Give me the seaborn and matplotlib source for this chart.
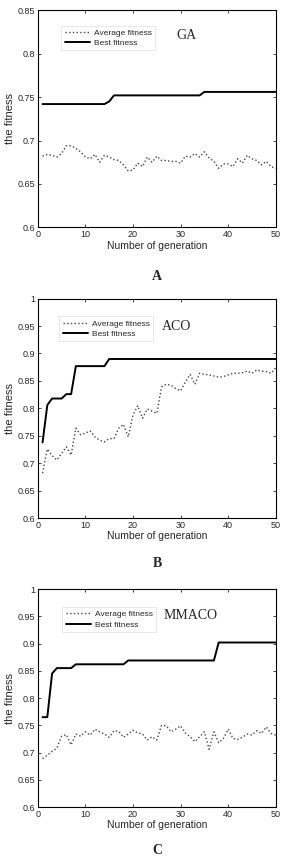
import pandas as pd
import matplotlib.pyplot as plt
import seaborn as sns
import numpy as np

sns.set_style('ticks')
plt.rcParams['font.family'] = ['Liberation Sans', 'DejaVu Sans']

generations = list(range(1, 51))

# GA
ga_avg = [0.682, 0.684, 0.683, 0.681, 0.685, 0.694, 0.694, 0.691, 0.687, 0.681,
          0.679, 0.684, 0.675, 0.683, 0.681, 0.678, 0.677, 0.672, 0.665, 0.666,
          0.674, 0.670, 0.681, 0.675, 0.682, 0.677, 0.677, 0.676, 0.676, 0.674,
          0.682, 0.681, 0.685, 0.681, 0.687, 0.680, 0.676, 0.668, 0.673, 0.673,
          0.670, 0.679, 0.674, 0.683, 0.679, 0.677, 0.672, 0.676, 0.670, 0.668]
ga_best = [0.742] * 14 + [0.745] + [0.752] * 19 + [0.756] * 16

# ACO
aco_avg = [0.682, 0.726, 0.714, 0.706, 0.718, 0.730, 0.715, 0.764, 0.752, 0.755,
           0.759, 0.748, 0.742, 0.739, 0.745, 0.745, 0.764, 0.771, 0.748, 0.788,
           0.805, 0.782, 0.799, 0.795, 0.791, 0.839, 0.844, 0.842, 0.836, 0.832,
           0.848, 0.862, 0.844, 0.864, 0.862, 0.861, 0.859, 0.857, 0.858, 0.861,
           0.864, 0.864, 0.865, 0.868, 0.864, 0.870, 0.868, 0.867, 0.864, 0.874]
aco_best = [0.738, 0.806, 0.818, 0.818, 0.818, 0.826, 0.826] + [0.877] * 7 + [0.890] * 36

# MMACO
mmaco_avg = [0.689, 0.695, 0.702, 0.708, 0.730, 0.733, 0.714, 0.734, 0.730, 0.738,
             0.732, 0.743, 0.738, 0.734, 0.728, 0.740, 0.739, 0.728, 0.734, 0.741,
             0.736, 0.734, 0.723, 0.729, 0.723, 0.750, 0.749, 0.738, 0.743, 0.749,
             0.736, 0.729, 0.720, 0.729, 0.738, 0.706, 0.738, 0.718, 0.726, 0.743,
             0.726, 0.724, 0.728, 0.734, 0.732, 0.740, 0.735, 0.747, 0.735, 0.732]
mmaco_best = [0.765, 0.765, 0.845] + [0.855] * 4 + [0.862] * 11 + [0.869] * 19 + [0.902] * 13

panels = [
    ('GA', 'A', ga_avg, ga_best, (0.6, 0.85), [0.134, 0.735, 0.844, 0.253],
     (0.081, 0.949), (0.623, 0.885), 0.678, 'center'),
    ('ACO', 'B', aco_avg, aco_best, (0.6, 1.0), [0.134, 0.396, 0.844, 0.256],
     (0.073, 0.938), (0.585, 0.871), 0.343, 'center'),
    ('MMACO', 'C', mmaco_avg, mmaco_best, (0.6, 1.0), [0.134, 0.0594, 0.844, 0.254],
     (0.085, 0.936), (0.642, 0.877), 0.001, 'bottom'),
]

fig = plt.figure(figsize=(2.82, 8.58), dpi=100)

for name, letter, avg, best, ylim, rect, leg_pos, name_pos, letter_y, letter_va in panels:
    ax = fig.add_axes(rect)
    df = pd.DataFrame({'generation': generations * 2,
                       'fitness': avg + best,
                       'kind': ['Average fitness'] * 50 + ['Best fitness'] * 50})
    sns.lineplot(data=df[df['kind'] == 'Average fitness'], x='generation', y='fitness',
                 ax=ax, color='#444444', linestyle=':', linewidth=1.0, label='Average fitness')
    sns.lineplot(data=df[df['kind'] == 'Best fitness'], x='generation', y='fitness',
                 ax=ax, color='black', linestyle='-', linewidth=1.4, label='Best fitness')

    ax.set_xlim(0, 50)
    ax.set_ylim(*ylim)
    ax.set_xticks(np.arange(0, 51, 10))
    yt = np.round(np.arange(ylim[0], ylim[1] + 0.001, 0.05), 2)
    ax.set_yticks(yt)
    ax.set_yticklabels(['%g' % v for v in yt])
    ax.tick_params(direction='in', length=2.5, width=0.6, labelsize=6.5,
                   top=True, right=True, pad=2)
    for s in ax.spines.values():
        s.set_linewidth(0.8)
        s.set_color('black')
    ax.set_xlabel('Number of generation', fontsize=7.5, labelpad=1)
    ax.set_ylabel('the fitness', fontsize=8, labelpad=2)

    leg = ax.legend(loc='upper left', bbox_to_anchor=leg_pos, fontsize=6,
                    handlelength=3.0, frameon=True, fancybox=False,
                    borderpad=0.4, labelspacing=0.3, handletextpad=0.5)
    leg.get_frame().set_edgecolor('#dddddd')
    leg.get_frame().set_linewidth(0.6)

    ax.text(name_pos[0], name_pos[1], name, transform=ax.transAxes,
            family='Liberation Serif', fontsize=10, ha='center', va='center')

    fig.text(0.557, letter_y, letter, family='Liberation Serif',
             fontsize=10, fontweight='bold', ha='center', va=letter_va)

fig.savefig('out.png', dpi=100)
